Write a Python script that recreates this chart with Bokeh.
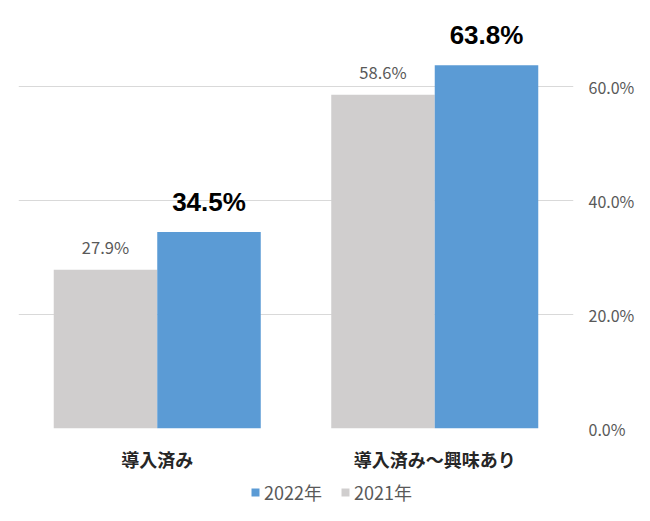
from bokeh.plotting import figure
from bokeh.layouts import column
from bokeh.models import (FactorRange, Range1d, FixedTicker, NumeralTickFormatter,
                          ColumnDataSource, Legend, LegendItem)
from bokeh.transform import dodge
from bokeh.core.properties import value
from bokeh.embed import file_html
from bokeh.resources import INLINE

categories = ["導入済み", "導入済み～興味あり"]
values_2021 = [0.279, 0.586]
values_2022 = [0.345, 0.638]
labels_2021 = ["27.9%", "58.6%"]
labels_2022 = ["34.5%", "63.8%"]
y_ticks = [0.0, 0.2, 0.4, 0.6]
series_names = ["2022年", "2021年"]
series_colors = ["#5B9BD5", "#D0CECE"]

src = ColumnDataSource(dict(cat=categories, v21=values_2021, v22=values_2022,
                            l21=labels_2021, l22=labels_2022))

p = figure(width=650, height=478, x_range=FactorRange(*categories, range_padding=0),
           y_range=Range1d(0, 0.72), y_axis_location="right",
           output_backend="svg", toolbar_location=None,
           min_border_left=18, min_border_right=77, min_border_top=18, min_border_bottom=50)
p.outline_line_color = None
p.background_fill_color = "white"

bw = 0.373
p.vbar(x=dodge("cat", -bw / 2, range=p.x_range), top="v21", width=bw, source=src,
       fill_color=series_colors[1], line_color=None)
p.vbar(x=dodge("cat", bw / 2, range=p.x_range), top="v22", width=bw, source=src,
       fill_color=series_colors[0], line_color=None)

p.text(x=dodge("cat", -bw / 2, range=p.x_range), y="v21", text="l21", source=src,
       text_align="center", text_baseline="bottom", y_offset=-11,
       text_font=value("Noto Sans CJK JP"), text_font_size="16.5px", text_color="#595959")
p.text(x=dodge("cat", bw / 2, range=p.x_range), y="v22", text="l22", source=src,
       text_align="center", text_baseline="bottom", y_offset=-15,
       text_font=value("Liberation Sans"), text_font_size="26px", text_font_style="bold",
       text_color="#000000")

ya = p.yaxis[0]
ya.ticker = FixedTicker(ticks=y_ticks)
ya.formatter = NumeralTickFormatter(format="0.0%")
ya.axis_line_color = None
ya.major_tick_line_color = None
ya.minor_tick_line_color = None
ya.major_tick_out = 0
ya.major_tick_in = 0
ya.major_label_standoff = 15
ya.major_label_text_font = "Noto Sans CJK JP"
ya.major_label_text_font_size = "16px"
ya.major_label_text_color = "#595959"

xa = p.xaxis[0]
xa.axis_line_color = None
xa.major_tick_line_color = None
xa.minor_tick_line_color = None
xa.major_tick_out = 0
xa.major_tick_in = 0
xa.major_label_standoff = 17
xa.major_label_text_font = "Noto Sans CJK JP"
xa.major_label_text_font_size = "18px"
xa.major_label_text_font_style = "bold"
xa.major_label_text_color = "#262626"

p.xgrid.grid_line_color = None
p.ygrid.ticker = FixedTicker(ticks=y_ticks)
p.ygrid.grid_line_color = "#D9D9D9"
p.ygrid.grid_line_width = 1

# legend strip: the same bars, drawn outside its visible y range, only feed the legend
p2 = figure(width=650, height=43, x_range=FactorRange(*categories), y_range=Range1d(5, 6),
            x_axis_type=None, y_axis_type=None,
            output_backend="svg", toolbar_location=None,
            min_border_left=0, min_border_right=0, min_border_top=0, min_border_bottom=0)
p2.outline_line_color = None
p2.xgrid.grid_line_color = None
p2.ygrid.grid_line_color = None
r22 = p2.vbar(x="cat", top="v22", width=bw, source=src, fill_color=series_colors[0], line_color=None)
r21 = p2.vbar(x="cat", top="v21", width=bw, source=src, fill_color=series_colors[1], line_color=None)
legend = Legend(items=[LegendItem(label=series_names[0], renderers=[r22]),
                       LegendItem(label=series_names[1], renderers=[r21])],
                orientation="horizontal", location=(232, 16),
                glyph_width=10, glyph_height=10, label_standoff=4, spacing=18,
                label_text_font="Noto Sans CJK JP", label_text_font_size="18px",
                label_text_color="#595959", border_line_color=None,
                background_fill_alpha=0, margin=0, padding=4)
p2.add_layout(legend, "center")

open("out.html", "w").write(file_html(column(p, p2, spacing=0), INLINE))
